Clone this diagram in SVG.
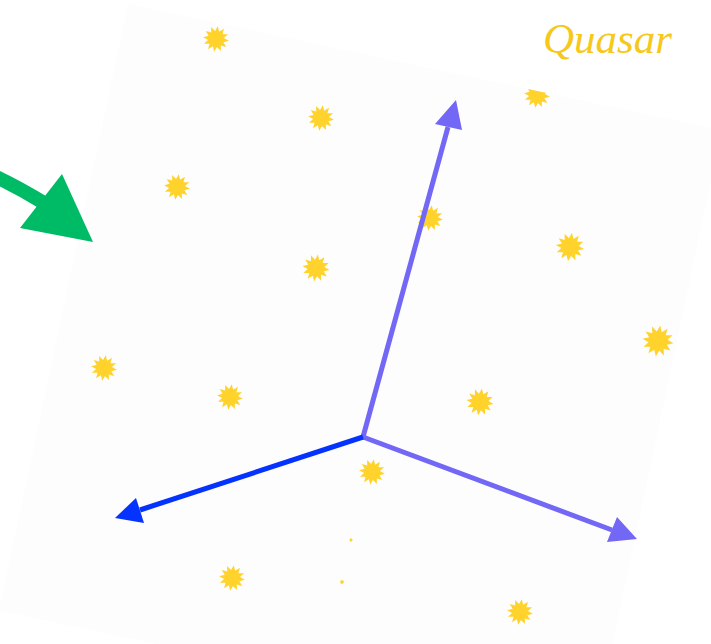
<svg xmlns="http://www.w3.org/2000/svg" xmlns:xlink="http://www.w3.org/1999/xlink" width="711" height="644" viewBox="0 0 711 644">
<style>
.star{fill:#ffd22c}
.purple{stroke:#7367f6;stroke-width:5;fill:none}
.purplef{fill:#7367f6}
.blue{stroke:#0433ff;stroke-width:5;fill:none}
.bluef{fill:#0433ff}
</style>
<defs>
<path id="st" d="M13,0 L7.73,2.07 L11.26,6.5 L5.66,5.66 L6.5,11.26 L2.07,7.73 L0,13 L-2.07,7.73 L-6.5,11.26 L-5.66,5.66 L-11.26,6.5 L-7.73,2.07 L-13,0 L-7.73,-2.07 L-11.26,-6.5 L-5.66,-5.66 L-6.5,-11.26 L-2.07,-7.73 L0,-13 L2.07,-7.73 L6.5,-11.26 L5.66,-5.66 L11.26,-6.5 L7.73,-2.07 Z"/>
<clipPath id="sq"><rect x="128" y="4" width="607" height="620" transform="rotate(12 128 4)"/></clipPath>
</defs>
<rect width="711" height="644" fill="#ffffff"/>
<g id="field">
<rect x="128" y="4" width="607" height="620" transform="rotate(12 128 4)" fill="#fdfdfd"/>
</g>
<g id="stars" clip-path="url(#sq)" class="star">
<use xlink:href="#st" transform="translate(216,39) rotate(8)"/>
<use xlink:href="#st" transform="translate(321,118) rotate(8)"/>
<use xlink:href="#st" transform="translate(177,187) rotate(8)"/>
<use xlink:href="#st" transform="translate(430,218) rotate(8)"/>
<use xlink:href="#st" transform="translate(316,268) rotate(8) scale(1.05)"/>
<use xlink:href="#st" transform="translate(570,247) rotate(8) scale(1.1)"/>
<use xlink:href="#st" transform="translate(658,341) rotate(8) scale(1.2)"/>
<use xlink:href="#st" transform="translate(104,368) rotate(8)"/>
<use xlink:href="#st" transform="translate(230,397) rotate(8)"/>
<use xlink:href="#st" transform="translate(480,402) rotate(8) scale(1.05)"/>
<use xlink:href="#st" transform="translate(372,472) rotate(8)"/>
<use xlink:href="#st" transform="translate(232,578) rotate(8)"/>
<use xlink:href="#st" transform="translate(520,612) rotate(8)"/>
<use xlink:href="#st" transform="translate(537,95) rotate(8)"/>
<use xlink:href="#st" transform="translate(351,540) scale(0.15)"/>
<use xlink:href="#st" transform="translate(342,582) scale(0.18)"/>
</g>
<g id="connectors">
<path class="purple" d="M363,437 L448,127"/>
<polygon class="purplef" points="456,100 462,130 435,124"/>
<path class="purple" d="M363,437 L612,530"/>
<polygon class="purplef" points="637,539 607,542 617,517"/>
<path class="blue" d="M363,437 L140,510"/>
<polygon class="bluef" points="115,518 136,498 144,523"/>
<path d="M-10,174 Q16,186 44,203" stroke="#00bb66" stroke-width="14" fill="none"/>
<polygon fill="#00bb66" points="62,174 93,242 20,228"/>
</g>
<g id="label">
<text x="543" y="53" font-family="Liberation Serif, serif" font-style="italic" font-size="43" fill="#f6c81a">Quasar</text>
</g>
</svg>
